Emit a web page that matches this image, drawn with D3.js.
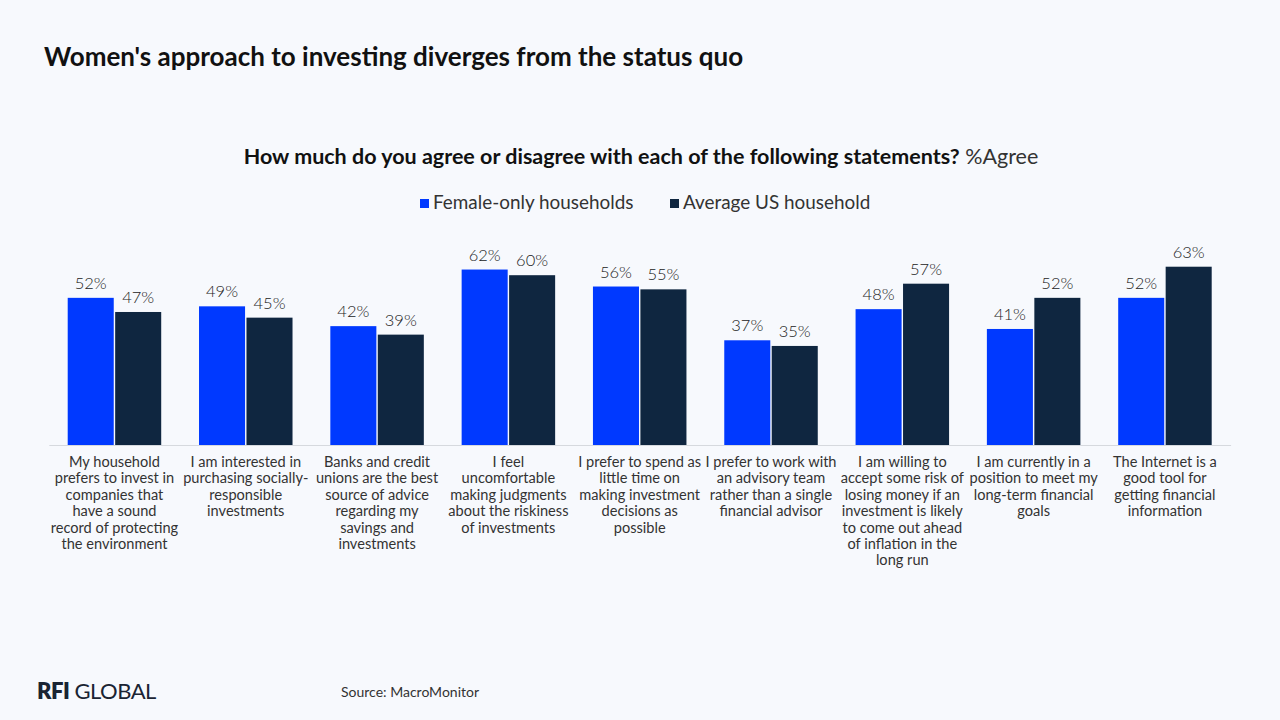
<!DOCTYPE html>
<html>
<head>
<meta charset="utf-8">
<script src="https://cdn.jsdelivr.net/npm/d3@7"></script>
<style>
  body { margin:0; background:#f7f9fd; font-family: Lato, "Open Sans", sans-serif; }
  svg { display:block; }
</style>
</head>
<body>
<div id="chart"></div>
<script>
// data
const categories = [
  ["My household", "prefers to invest in", "companies that", "have a sound", "record of protecting", "the environment"],
  ["I am interested in", "purchasing socially-", "responsible", "investments"],
  ["Banks and credit", "unions are the best", "source of advice", "regarding my", "savings and", "investments"],
  ["I feel", "uncomfortable", "making judgments", "about the riskiness", "of investments"],
  ["I prefer to spend as", "little time on", "making investment", "decisions as", "possible"],
  ["I prefer to work with", "an advisory team", "rather than a single", "financial advisor"],
  ["I am willing to", "accept some risk of", "losing money if an", "investment is likely", "to come out ahead", "of inflation in the", "long run"],
  ["I am currently in a", "position to meet my", "long-term financial", "goals"],
  ["The Internet is a", "good tool for", "getting financial", "information"]
]
const seriesNames = ["Female-only households", "Average US household"]
const femaleOnly = [52, 49, 42, 62, 56, 37, 48, 41, 52]
const averageUS  = [47, 45, 39, 60, 55, 35, 57, 52, 63]

const W = 1280, H = 720
const colors = ["#0039ff", "#0f2640"]

const svg = d3.select("#chart").append("svg")
  .attr("width", W).attr("height", H)

svg.append("rect").attr("width", W).attr("height", H).attr("fill", "#f7f9fd")

// title
svg.append("text")
  .attr("x", 44).attr("y", 66)
  .attr("font-size", 26).attr("font-weight", 700)
  .attr("fill", "#111")
  .text("Women's approach to investing diverges from the status quo")

// subtitle
const sub = svg.append("text")
  .attr("x", 641).attr("y", 164)
  .attr("text-anchor", "middle")
  .attr("font-size", 21.5).attr("fill", "#111")
sub.append("tspan").attr("font-weight", 700).text("How much do you agree or disagree with each of the following statements?")
sub.append("tspan").attr("font-weight", 400).attr("fill", "#333").text(" %Agree")

// scales
const ids = categories.map((d, i) => i)
const x0 = d3.scaleBand().domain(ids).range([48.8, 1230.6]).padding(0)
const step = x0.bandwidth()
const groupW = 93.5
const x1 = d3.scaleBand().domain([0, 1])
  .range([(step - groupW) / 2, (step + groupW) / 2])
  .paddingInner(0.03)
const y = d3.scaleLinear().domain([0, 100]).range([445, 162])

const rows = ids.map(i => ({ i, vals: [femaleOnly[i], averageUS[i]] }))

// baseline axis
svg.append("g")
  .attr("transform", `translate(0,${y(0)})`)
  .call(d3.axisBottom(x0).tickSize(0).tickFormat(""))
  .call(g => g.select(".domain").attr("stroke", "#d6d9de"))

// bars
const groups = svg.selectAll(".grp")
  .data(rows)
  .join("g")
  .attr("class", "grp")
  .attr("transform", d => `translate(${x0(d.i)},0)`)

groups.selectAll("rect")
  .data(d => d.vals.map((v, k) => ({ k, v })))
  .join("rect")
  .attr("x", d => x1(d.k))
  .attr("width", x1.bandwidth())
  .attr("y", d => y(d.v))
  .attr("height", d => y(0) - y(d.v))
  .attr("fill", d => colors[d.k])

groups.selectAll(".val")
  .data(d => d.vals.map((v, k) => ({ k, v })))
  .join("text")
  .attr("class", "val")
  .attr("x", d => x1(d.k) + x1.bandwidth() / 2)
  .attr("y", d => y(d.v) - 9)
  .attr("text-anchor", "middle")
  .attr("font-size", 16.5).attr("font-weight", 300).attr("fill", "#222")
  .text(d => d.v + "%")

// category labels
groups.append("text")
  .attr("class", "cat")
  .attr("text-anchor", "middle")
  .attr("font-size", 14.6).attr("fill", "#333")
  .selectAll("tspan")
  .data(d => categories[d.i])
  .join("tspan")
  .attr("x", step / 2)
  .attr("y", (d, j) => 467 + j * 16.4)
  .text(d => d)

// legend
const legend = svg.append("g")
const legendX = [420, 670]
seriesNames.forEach((name, k) => {
  legend.append("rect")
    .attr("x", legendX[k]).attr("y", 199)
    .attr("width", 9).attr("height", 9)
    .attr("fill", colors[k])
  legend.append("text")
    .attr("x", legendX[k] + 13).attr("y", 209)
    .attr("font-size", 18.9).attr("fill", "#333")
    .text(name)
})

// footer
const logo = svg.append("text")
  .attr("x", 37).attr("y", 699)
  .attr("font-size", 22).attr("fill", "#1a2433")
  .attr("letter-spacing", -0.5)
logo.append("tspan").attr("font-weight", 800).text("RFI")
logo.append("tspan").attr("font-weight", 400).text(" GLOBAL")

svg.append("text")
  .attr("x", 341).attr("y", 697)
  .attr("font-size", 14).attr("fill", "#333")
  .text("Source: MacroMonitor")
</script>
</body>
</html>
